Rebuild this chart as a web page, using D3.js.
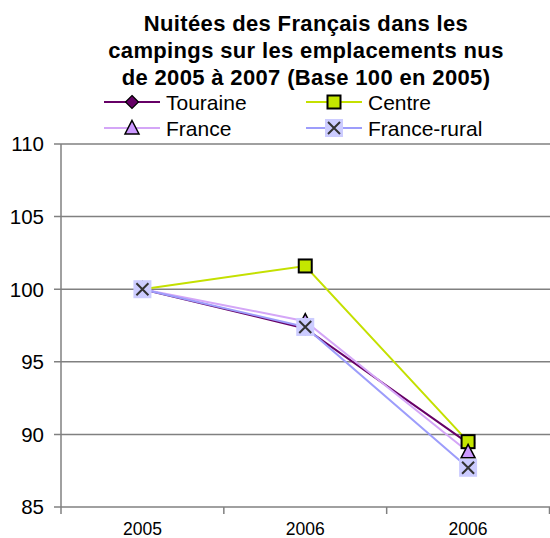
<!DOCTYPE html>
<html>
<head>
<meta charset="utf-8">
<script src="https://cdn.jsdelivr.net/npm/d3@7"></script>
<style>
  body { margin: 0; background: #fff; }
  svg { display: block; font-family: "Liberation Sans", Arial, sans-serif; }
</style>
</head>
<body>
<script>
const years = ["2005", "2006", "2006 "];
const seriesNames = ["Touraine", "Centre", "France", "France-rural"];
const touraine = [100, 97.3, 89.4];
const centre = [100, 101.6, 89.5];
const france = [100, 97.8, 88.8];
const franceRural = [100, 97.4, 87.7];
const yTicks = [85, 90, 95, 100, 105, 110];

const width = 550, height = 538;
const margin = { top: 144, right: 0, bottom: 31, left: 61 };

const svg = d3.select("body").append("svg")
  .attr("width", width).attr("height", height);

// titre
const title = ["Nuitées des Français dans les",
  "campings sur les emplacements nus",
  "de 2005 à 2007 (Base 100 en 2005)"];
svg.append("g").selectAll("text").data(title).join("text")
  .attr("x", 306).attr("y", (d, i) => 31 + i * 27)
  .attr("text-anchor", "middle")
  .style("font-weight", "bold").style("font-size", "22px")
  .style("letter-spacing", "0.35px")
  .text(d => d);

const x = d3.scaleBand().domain(years).range([margin.left, width - 0.5]);
const y = d3.scaleLinear().domain([85, 110]).range([height - margin.bottom, margin.top]);

// grille
svg.append("g").selectAll("line").data(yTicks).join("line")
  .attr("x1", margin.left - 7).attr("x2", width)
  .attr("y1", d => y(d)).attr("y2", d => y(d))
  .attr("stroke", "#808080").attr("stroke-width", 1.5);

svg.append("line")
  .attr("x1", margin.left).attr("x2", margin.left)
  .attr("y1", y(110)).attr("y2", y(85))
  .attr("stroke", "#808080").attr("stroke-width", 1.5);

svg.append("g").selectAll("text").data(yTicks).join("text")
  .attr("x", 44).attr("y", d => y(d)).attr("dy", "0.36em")
  .attr("text-anchor", "end").style("font-size", "20.5px")
  .text(d => d);

// ticks x
const xTickPos = years.map(d => x(d)).concat([x(years[2]) + x.bandwidth()]);
svg.append("g").selectAll("line").data(xTickPos).join("line")
  .attr("x1", d => d).attr("x2", d => d)
  .attr("y1", y(85)).attr("y2", y(85) + 7)
  .attr("stroke", "#808080").attr("stroke-width", 1.5);

svg.append("g").selectAll("text").data(years).join("text")
  .attr("x", d => x(d) + x.bandwidth() / 2).attr("y", 535)
  .attr("text-anchor", "middle").style("font-size", "17.5px")
  .text(d => d.trim());

const cx = (d, i) => x(years[i]) + x.bandwidth() / 2;
const line = d3.line().x(cx).y(d => y(d));

const series = [
  { name: seriesNames[0], values: touraine, color: "#660066", marker: "diamond", fill: "#660066" },
  { name: seriesNames[1], values: centre, color: "#c4e000", marker: "square", fill: "#c4e600" },
  { name: seriesNames[2], values: france, color: "#d4a6f7", marker: "triangle", fill: "#cc99ff" },
  { name: seriesNames[3], values: franceRural, color: "#9d9dfb", marker: "x", fill: "#ccccff" }
];

function drawMarker(g, type, fill) {
  if (type === "diamond") {
    g.append("path").attr("d", "M0,-6.5L6.5,0L0,6.5L-6.5,0Z")
      .attr("fill", fill).attr("stroke", "#000").attr("stroke-width", 1.2);
  } else if (type === "square") {
    g.append("rect").attr("x", -6.5).attr("y", -6.5).attr("width", 13).attr("height", 13)
      .attr("fill", fill).attr("stroke", "#000").attr("stroke-width", 2);
  } else if (type === "triangle") {
    g.append("path").attr("d", "M0,-7.5L7,6L-7,6Z")
      .attr("fill", fill).attr("stroke", "#000").attr("stroke-width", 1.5);
  } else {
    g.append("rect").attr("x", -9).attr("y", -9).attr("width", 18).attr("height", 18)
      .attr("fill", fill);
    g.append("path").attr("d", "M-6,-6L6,6M6,-6L-6,6")
      .attr("stroke", "#333").attr("stroke-width", 2);
  }
}

const plot = svg.append("g");
series.forEach(s => {
  plot.append("path").datum(s.values)
    .attr("d", line).attr("fill", "none")
    .attr("stroke", s.color).attr("stroke-width", 2);
});
series.forEach(s => {
  s.values.forEach((v, i) => {
    const g = plot.append("g").attr("transform", `translate(${cx(v, i)},${y(v)})`);
    drawMarker(g, s.marker, s.fill);
  });
});

// légende
const legendPos = [[104, 102], [306, 102], [104, 128], [306, 128]];
series.forEach((s, i) => {
  const [lx, ly] = legendPos[i];
  const g = svg.append("g").attr("transform", `translate(${lx},${ly})`);
  g.append("line").attr("x1", 0).attr("x2", 56).attr("y1", 0).attr("y2", 0)
    .attr("stroke", s.color).attr("stroke-width", 2);
  drawMarker(g.append("g").attr("transform", "translate(28,0)"), s.marker, s.fill);
  g.append("text").attr("x", 62).attr("y", 0).attr("dy", "0.36em")
    .style("font-size", "21px").text(s.name);
});
</script>
</body>
</html>
